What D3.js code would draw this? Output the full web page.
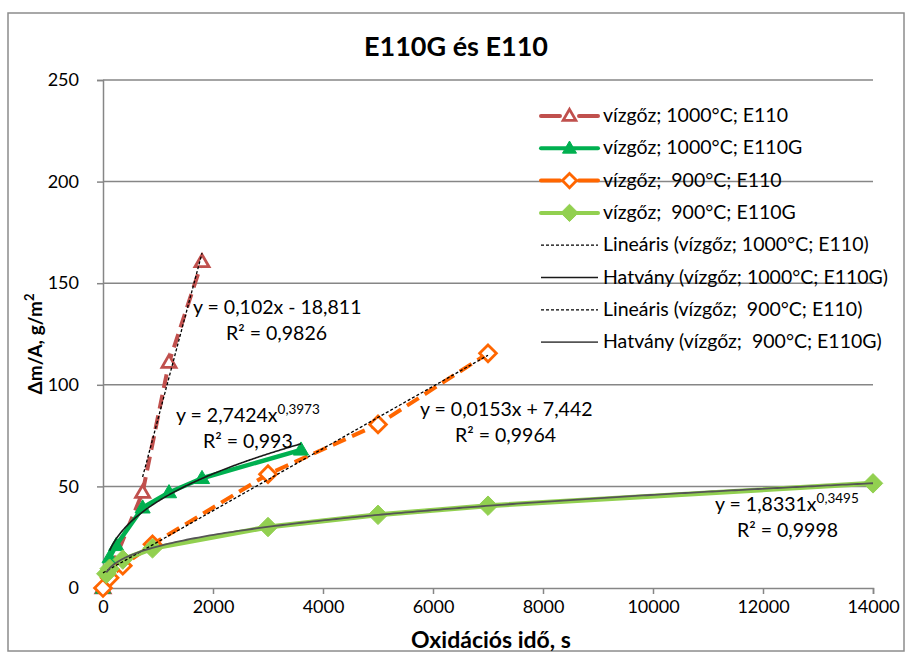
<!DOCTYPE html>
<html>
<head>
<meta charset="utf-8">
<script src="https://cdn.jsdelivr.net/npm/d3@7/dist/d3.min.js"></script>
<style>
  html, body { margin: 0; padding: 0; background: #fff; }
  svg text { font-family: Lato, "Open Sans", sans-serif; fill: #000; }
</style>
</head>
<body>
<svg id="chart" width="908" height="653"></svg>
<script>
// ---- data ----
const xTicks = [0, 2000, 4000, 6000, 8000, 10000, 12000, 14000];
const yTicks = [0, 50, 100, 150, 200, 250];

// steam, 1000 °C, E110
const s1000E110_x = [0, 720, 1200, 1800];
const s1000E110_y = [0, 47, 111, 160.5];
// steam, 1000 °C, E110G
const s1000E110G_x = [0, 120, 240, 720, 1200, 1800, 3600];
const s1000E110G_y = [0, 15, 21, 39.5, 47, 54, 68];
// steam, 900 °C, E110
const s900E110_x = [0, 120, 360, 900, 3000, 5000, 7000];
const s900E110_y = [0, 5, 11, 21.5, 56, 80.5, 115.5];
// steam, 900 °C, E110G
const s900E110G_x = [60, 120, 360, 900, 3000, 5000, 7000, 14000];
const s900E110G_y = [7, 9.5, 14, 19.5, 30, 36, 40.5, 51.5];

const seriesNames = [
  "vízgőz; 1000°C; E110",
  "vízgőz; 1000°C; E110G",
  "vízgőz;  900°C; E110",
  "vízgőz;  900°C; E110G"
];
const trendNames = [
  "Lineáris (vízgőz; 1000°C; E110)",
  "Hatvány (vízgőz; 1000°C; E110G)",
  "Lineáris (vízgőz;  900°C; E110)",
  "Hatvány (vízgőz;  900°C; E110G)"
];

// trendline coefficients (as printed on the chart)
const lin1000 = { a: 0.102, b: -18.811, r2: "0,9826" };
const pow1000 = { a: 2.7424, b: 0.3973, r2: "0,993" };
const lin900 = { a: 0.0153, b: 7.442, r2: "0,9964" };
const pow900 = { a: 1.8331, b: 0.3495, r2: "0,9998" };

// ---- layout ----
const svg = d3.select("#chart");
const x = d3.scaleLinear().domain([0, 14000]).range([103, 873]);
const y = d3.scaleLinear().domain([0, 250]).range([588, 80]);
const axisColor = "#868686";

svg.append("rect").attr("x", 8).attr("y", 13).attr("width", 896).attr("height", 638)
  .attr("fill", "#fff").attr("stroke", "#8c8c8c").attr("stroke-width", 1.5);

// horizontal gridlines
svg.append("g").selectAll("line").data(yTicks.filter(d => d > 0)).join("line")
  .attr("x1", x(0)).attr("x2", x(14000))
  .attr("y1", d => y(d)).attr("y2", d => y(d))
  .attr("stroke", axisColor).attr("stroke-width", 1.5);

// axes
const xAxis = d3.axisBottom(x).tickValues(xTicks).tickSize(6).tickPadding(6).tickFormat(d3.format("d"));
const yAxis = d3.axisLeft(y).tickValues(yTicks).tickSize(6).tickPadding(18).tickFormat(d3.format("d"));

const gx = svg.append("g").attr("transform", `translate(0,${y(0)})`).call(xAxis);
const gy = svg.append("g").attr("transform", `translate(${x(0)},0)`).call(yAxis);
[gx, gy].forEach(g => {
  g.select(".domain").attr("stroke", axisColor).attr("stroke-width", 1.5);
  g.selectAll(".tick line").attr("stroke", axisColor).attr("stroke-width", 1.5);
  g.selectAll(".tick text").attr("font-size", 18).attr("font-family", "Lato").attr("fill", "#000");
});

// titles
svg.append("text").attr("x", 456).attr("y", 56).attr("text-anchor", "middle")
  .attr("font-size", 27).attr("font-weight", "bold").text("E110G és E110");
svg.append("text").attr("x", 491).attr("y", 648).attr("text-anchor", "middle")
  .attr("font-size", 23).attr("font-weight", "bold").text("Oxidációs idő, s");
const yl = svg.append("text").attr("transform", "translate(42,344) rotate(-90)")
  .attr("text-anchor", "middle").attr("font-size", 19).attr("font-weight", "bold");
yl.append("tspan").text("Δm/A, g/m");
yl.append("tspan").attr("dy", -8).attr("font-size", 13).text("2");

// ---- marker shapes ----
const diamond = {
  draw(ctx, size) {
    const r = Math.sqrt(size / 2);
    ctx.moveTo(0, -r); ctx.lineTo(r, 0); ctx.lineTo(0, r); ctx.lineTo(-r, 0); ctx.closePath();
  }
};
const triangle = {
  draw(ctx, size) {
    const s = Math.sqrt(size * 4 / Math.sqrt(3));
    const h = s * Math.sqrt(3) / 2;
    ctx.moveTo(0, -h * 0.6); ctx.lineTo(s / 2, h * 0.4); ctx.lineTo(-s / 2, h * 0.4); ctx.closePath();
  }
};

// ---- series ----
const zip = (xs, ys) => xs.map((v, i) => [v, ys[i]]);
const line = d3.line().x(d => x(d[0])).y(d => y(d[1]));

const series = [
  { name: seriesNames[0], pts: zip(s1000E110_x, s1000E110_y), color: "#C0504D", dash: "14,7", sym: triangle, fill: false, size: 85, lsize: 70, w: 4 },
  { name: seriesNames[1], pts: zip(s1000E110G_x, s1000E110G_y), color: "#00B050", dash: null, sym: triangle, fill: true, size: 100, lsize: 85, w: 4.5 },
  { name: seriesNames[2], pts: zip(s900E110_x, s900E110_y), color: "#FF6600", dash: "14,7", sym: diamond, fill: false, size: 140, lsize: 100, w: 4 },
  { name: seriesNames[3], pts: zip(s900E110G_x, s900E110G_y), color: "#92D050", dash: null, sym: diamond, fill: true, size: 190, lsize: 150, w: 5 }
];

const plot = svg.append("g");
series.forEach(s => {
  plot.append("path").datum(s.pts).attr("d", line)
    .attr("fill", "none").attr("stroke", s.color).attr("stroke-width", s.w)
    .attr("stroke-dasharray", s.dash).attr("stroke-linecap", s.dash ? "butt" : "round")
    .attr("stroke-linejoin", "round");
});
function drawMarker(g, s, px, py, size) {
  g.append("path").attr("d", d3.symbol(s.sym, size)())
    .attr("transform", `translate(${px},${py})`)
    .attr("fill", s.fill ? s.color : "#fff")
    .attr("stroke", s.color).attr("stroke-width", s.fill ? 1 : 2.8)
    .attr("stroke-linejoin", "miter");
}
series.forEach(s => s.pts.forEach(p => drawMarker(plot, s, x(p[0]), y(p[1]), s.size)));

// ---- trendlines ----
const sample = (x0, x1, f) => d3.range(0, 201).map(i => {
  const xv = x0 + (x1 - x0) * i / 200;
  return [xv, f(xv)];
});
const positiveMin = xs => d3.min(xs.filter(v => v > 0));
const trends = [
  { pts: sample(720, d3.max(s1000E110_x), v => lin1000.a * v + lin1000.b), color: "#000", dash: "3,2", w: 1.3 },
  { pts: sample(positiveMin(s1000E110G_x), d3.max(s1000E110G_x), v => pow1000.a * Math.pow(v, pow1000.b)), color: "#1a1a1a", dash: null, w: 1.6 },
  { pts: sample(d3.min(s900E110_x), d3.max(s900E110_x), v => lin900.a * v + lin900.b), color: "#000", dash: "3,2", w: 1.3 },
  { pts: sample(positiveMin(s900E110G_x), d3.max(s900E110G_x), v => pow900.a * Math.pow(v, pow900.b)), color: "#555", dash: null, w: 1.8 }
];
trends.forEach(t => {
  plot.append("path").datum(t.pts).attr("d", line)
    .attr("fill", "none").attr("stroke", t.color).attr("stroke-width", t.w)
    .attr("stroke-dasharray", t.dash);
});

// ---- trendline equations ----
const fmt = (v, n) => v.toFixed(n).replace(".", ",");
function eqLabel(px, py, parts, r2, rx) {
  const t = svg.append("text").attr("x", px).attr("y", py).attr("font-size", 19.5);
  parts.forEach(p => {
    const ts = t.append("tspan").text(p.t);
    if (p.sup) ts.attr("dy", -8).attr("font-size", 13.5);
  });
  svg.append("text").attr("x", rx).attr("y", py + 26).attr("font-size", 19.5).text("R² = " + r2);
}
eqLabel(193, 314, [{ t: `y = ${fmt(lin1000.a, 3)}x - ${fmt(-lin1000.b, 3)}` }], lin1000.r2, 226);
eqLabel(176, 422, [{ t: `y = ${fmt(pow1000.a, 4)}x` }, { t: fmt(pow1000.b, 4), sup: true }], pow1000.r2, 203);
eqLabel(420, 416, [{ t: `y = ${fmt(lin900.a, 4)}x + ${fmt(lin900.b, 3)}` }], lin900.r2, 455);
eqLabel(715, 511, [{ t: `y = ${fmt(pow900.a, 4)}x` }, { t: fmt(pow900.b, 4), sup: true }], pow900.r2, 737);

// ---- legend ----
const legend = svg.append("g");
const lx0 = 541, lx1 = 598, ltx = 603, ly0 = 116, lstep = 32.3;
series.forEach((s, i) => {
  const yy = ly0 + i * lstep;
  legend.append("line").attr("x1", lx0).attr("x2", lx1).attr("y1", yy).attr("y2", yy)
    .attr("stroke", s.color).attr("stroke-width", 4).attr("stroke-linecap", "round")
    .attr("stroke-dasharray", s.dash ? "19,19,19" : null);
  drawMarker(legend, s, (lx0 + lx1) / 2, yy, s.lsize);
  legend.append("text").attr("x", ltx).attr("y", yy + 6).attr("font-size", 19.5).attr("xml:space", "preserve").text(s.name);
});
trends.forEach((t, i) => {
  const yy = ly0 + (i + 4) * lstep;
  legend.append("line").attr("x1", lx0).attr("x2", lx1).attr("y1", yy).attr("y2", yy)
    .attr("stroke", t.color).attr("stroke-width", t.w).attr("stroke-dasharray", t.dash);
  legend.append("text").attr("x", ltx).attr("y", yy + 6).attr("font-size", 19.5).attr("xml:space", "preserve").text(trendNames[i]);
});
</script>
</body>
</html>
